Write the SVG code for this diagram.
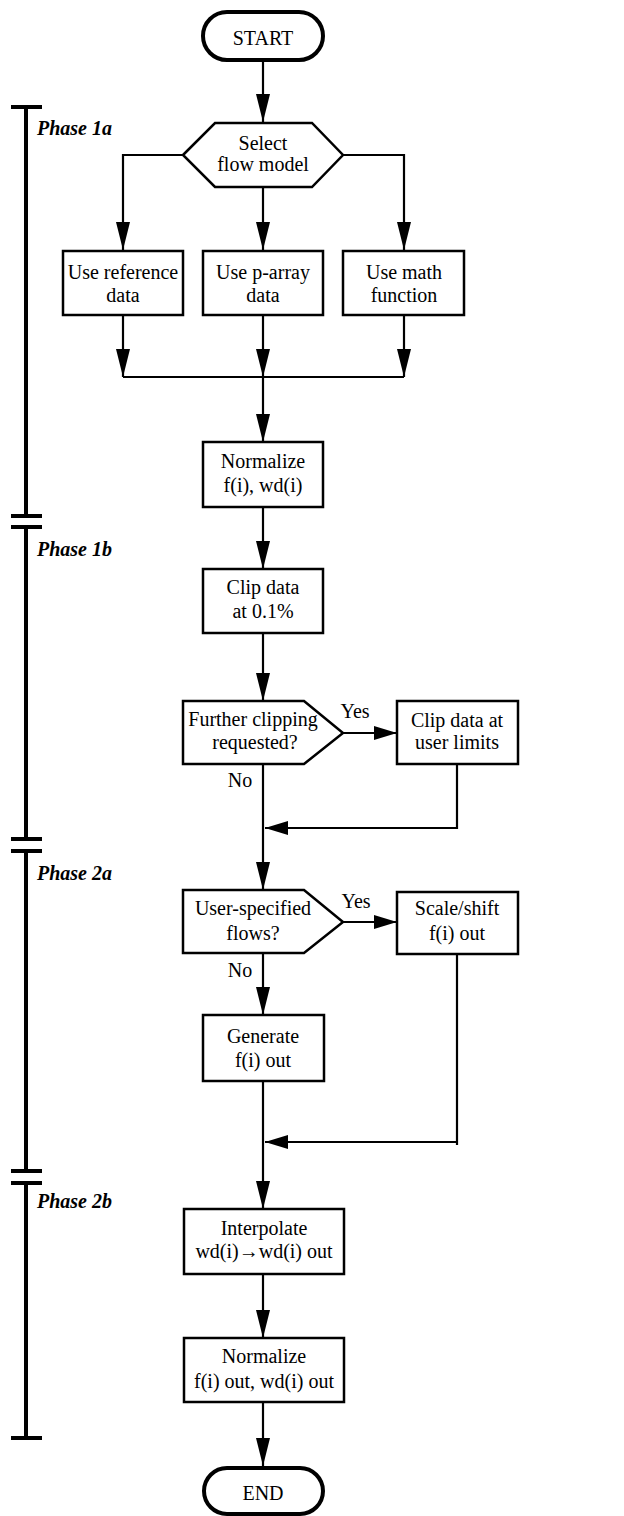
<svg xmlns="http://www.w3.org/2000/svg" width="624" height="1516" viewBox="0 0 624 1516">
<style>
.box{fill:#fff;stroke:#000;stroke-width:2.5}
.term{fill:#fff;stroke:#000;stroke-width:4}
.t{font-size:20px;fill:#000;text-anchor:middle}
.ph{font-size:20px;font-weight:bold;font-style:italic;fill:#000}
.c{fill:none;stroke:#000;stroke-width:2.2}
.cv{marker-end:url(#av)}
.ch{marker-end:url(#ah)}
.bar{fill:none;stroke:#000;stroke-width:4}
</style>
<defs>
<marker id="av" markerUnits="userSpaceOnUse" markerWidth="28" markerHeight="14" viewBox="0 0 28 14" refX="28" refY="7" orient="auto"><path d="M0,0 L28,7 L0,14 Z" fill="#000"/></marker>
<marker id="ah" markerUnits="userSpaceOnUse" markerWidth="23" markerHeight="14" viewBox="0 0 23 14" refX="23" refY="7" orient="auto"><path d="M0,0 L23,7 L0,14 Z" fill="#000"/></marker>
</defs>
<rect width="624" height="1516" fill="#fff"/>
<g font-family="Liberation Serif, Times New Roman, serif">

<g id="phases">
<path class="bar" d="M26,107 V516 M26,527 V839 M26,851 V1171 M26,1183 V1438"/>
<path class="bar" d="M11,107 H42 M11,516 H42 M11,527 H42 M11,839 H42 M11,851 H42 M11,1171 H42 M11,1183 H42 M11,1438 H42"/>
<text class="ph" x="37" y="135">Phase 1a</text>
<text class="ph" x="37" y="556">Phase 1b</text>
<text class="ph" x="37" y="880">Phase 2a</text>
<text class="ph" x="37" y="1208">Phase 2b</text>
</g>

<g id="connectors">
<path class="c cv" d="M263,62 V122"/>
<path class="c cv" d="M183,155 H123 V250"/>
<path class="c cv" d="M263,187 V250"/>
<path class="c cv" d="M343,155 H404 V250"/>
<path class="c cv" d="M123,315 V377"/>
<path class="c cv" d="M263,315 V377"/>
<path class="c cv" d="M404,315 V377"/>
<path class="c" d="M123,377 H404"/>
<path class="c cv" d="M263,377 V442"/>
<path class="c cv" d="M263,507 V569"/>
<path class="c cv" d="M263,633 V701"/>
<path class="c ch" d="M343,733 H397"/>
<path class="c cv" d="M263,764 V890"/>
<path class="c ch" d="M457,764 V828 H265"/>
<path class="c ch" d="M343,922 H397"/>
<path class="c cv" d="M263,953 V1015"/>
<path class="c ch" d="M457,954 V1145 M457,1142 H265"/>
<path class="c cv" d="M263,1081 V1209"/>
<path class="c cv" d="M263,1274 V1338"/>
<path class="c cv" d="M263,1402 V1466"/>
<text class="t" x="355" y="718">Yes</text>
<text class="t" x="240" y="787">No</text>
<text class="t" x="356" y="908">Yes</text>
<text class="t" x="240" y="977">No</text>
</g>

<g id="start">
<rect class="term" x="203" y="12" width="120" height="48" rx="24"/>
<text class="t" x="263" y="45">START</text>
</g>

<g id="select">
<polygon class="box" points="183,155 215,123 312,123 343,155 312,187 215,187"/>
<text class="t" x="263" y="150">Select</text>
<text class="t" x="263" y="171">flow model</text>
</g>

<g id="useref">
<rect class="box" x="63" y="251" width="120" height="64"/>
<text class="t" x="123" y="279">Use reference</text>
<text class="t" x="123" y="302">data</text>
</g>

<g id="useparray">
<rect class="box" x="203" y="251" width="120" height="64"/>
<text class="t" x="263" y="279">Use p-array</text>
<text class="t" x="263" y="302">data</text>
</g>

<g id="usemath">
<rect class="box" x="343" y="251" width="121" height="64"/>
<text class="t" x="404" y="279">Use math</text>
<text class="t" x="404" y="302">function</text>
</g>

<g id="normalize1">
<rect class="box" x="203" y="442" width="120" height="65"/>
<text class="t" x="263" y="468">Normalize</text>
<text class="t" x="263" y="492">f(i), wd(i)</text>
</g>

<g id="clip01">
<rect class="box" x="203" y="569" width="120" height="64"/>
<text class="t" x="263" y="594">Clip data</text>
<text class="t" x="263" y="618">at 0.1%</text>
</g>

<g id="further">
<polygon class="box" points="183,701 304,701 343,733 304,764 183,764"/>
<text class="t" x="253" y="726">Further clipping</text>
<text class="t" x="255" y="749">requested?</text>
</g>

<g id="clipuser">
<rect class="box" x="397" y="701" width="121" height="63"/>
<text class="t" x="457" y="727">Clip data at</text>
<text class="t" x="457" y="749">user limits</text>
</g>

<g id="userflows">
<polygon class="box" points="183,890 304,890 343,922 304,953 183,953"/>
<text class="t" x="253" y="915">User-specified</text>
<text class="t" x="253" y="940">flows?</text>
</g>

<g id="scaleshift">
<rect class="box" x="397" y="892" width="121" height="62"/>
<text class="t" x="457" y="915">Scale/shift</text>
<text class="t" x="457" y="940">f(i) out</text>
</g>

<g id="generate">
<rect class="box" x="203" y="1015" width="121" height="66"/>
<text class="t" x="263" y="1043">Generate</text>
<text class="t" x="263" y="1067">f(i) out</text>
</g>

<g id="interpolate">
<rect class="box" x="184" y="1209" width="160" height="65"/>
<text class="t" x="264" y="1235">Interpolate</text>
<text class="t" x="264" y="1258">wd(i)→wd(i) out</text>
</g>

<g id="normalize2">
<rect class="box" x="184" y="1338" width="160" height="64"/>
<text class="t" x="264" y="1363">Normalize</text>
<text class="t" x="264" y="1388">f(i) out, wd(i) out</text>
</g>

<g id="end">
<rect class="term" x="204" y="1468" width="119" height="46" rx="23"/>
<text class="t" x="263" y="1500">END</text>
</g>
</g>
</svg>
